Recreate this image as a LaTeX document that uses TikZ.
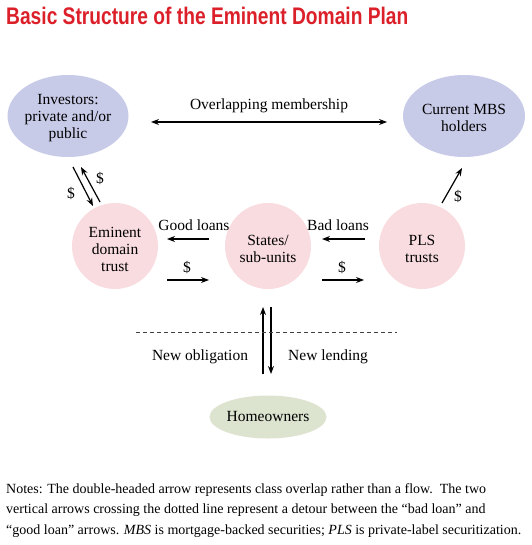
\documentclass[tikz,border=0pt]{standalone}
\usepackage{fontspec}
\setmainfont{Liberation Serif}
\newfontfamily\titlefont[FakeStretch=0.80]{Liberation Sans}
\usetikzlibrary{arrows.meta,shapes.geometric}
\definecolor{titlered}{RGB}{220,32,42}
\definecolor{lav}{RGB}{200,203,232}
\definecolor{pinkc}{RGB}{249,220,224}
\definecolor{greenc}{RGB}{220,227,207}
\tikzset{
  lbl/.style={font=\fontsize{15.5}{17}\selectfont, inner sep=0pt, align=center},
  ell/.style={ellipse, fill=lav, draw=none, inner sep=0pt},
  circ/.style={circle, fill=pinkc, draw=none, minimum size=86pt, inner sep=0pt},
  arr/.style={line width=1.2pt, -{Stealth[length=8pt,width=6pt]}},
}
\begin{document}
\begin{tikzpicture}[x=1pt,y=-1pt]
\useasboundingbox (0,0) rectangle (531,545);
% title
\node[anchor=base west, inner sep=0pt, text=titlered, font=\titlefont\bfseries\fontsize{24}{26}\selectfont] (title) at (6,25) {Basic Structure of the Eminent Domain Plan};
% nodes
\node[ell, minimum width=121pt, minimum height=82pt] (inv) at (68,116) {};
\node[lbl] (invt) at (68,118) {Investors:\\private and/or\\public};
\node[ell, minimum width=122pt, minimum height=82pt] (mbs) at (464,116) {};
\node[lbl] (mbst) at (464,118) {Current MBS\\holders};
\node[circ] (edt) at (115,246) {};
\node[lbl] (edtt) at (115,249) {Eminent\\domain\\trust};
\node[circ] (st) at (268,246) {};
\node[lbl] (stt) at (268,249) {States/\\sub-units};
\node[circ] (pls) at (422,246) {};
\node[lbl] (plst) at (422,249) {PLS\\trusts};
\node[ellipse, fill=greenc, minimum width=117pt, minimum height=43pt, inner sep=0pt] (home) at (268,417) {};
\node[lbl] (homet) at (268,416) {Homeowners};
% overlapping
\coordinate (ovL) at (151,122);
\coordinate (ovR) at (387,122);
\draw[line width=1.2pt, {Stealth[length=8pt,width=6pt]}-{Stealth[length=8pt,width=6pt]}] (ovL) -- (ovR);
\node[lbl] (ovt) at (269,106) {Overlapping membership};
% investors <-> trust
\coordinate (d1a) at (73,167);
\coordinate (d1b) at (93,206);
\coordinate (d2a) at (100,202);
\coordinate (d2b) at (81,167);
\draw[arr] (d1a) -- (d1b);
\draw[arr] (d2a) -- (d2b);
\node[lbl] (dl1) at (71,193) {\$};
\node[lbl] (dl2) at (100,178) {\$};
% pls -> mbs
\coordinate (m1) at (442,203);
\coordinate (m2) at (462,168);
\draw[arr] (m1) -- (m2);
\node[lbl] (dl3) at (458,196) {\$};
% horizontal
\coordinate (g1) at (209,239); \coordinate (g2) at (167,239);
\draw[arr] (g1) -- (g2);
\node[lbl] (gt) at (194,225) {Good loans};
\coordinate (h1) at (167,280); \coordinate (h2) at (209,280);
\draw[arr] (h1) -- (h2);
\node[lbl] (dl4) at (187,267) {\$};
\coordinate (b1) at (365,239); \coordinate (b2) at (322,239);
\draw[arr] (b1) -- (b2);
\node[lbl] (bt) at (338,225) {Bad loans};
\coordinate (k1) at (322,280); \coordinate (k2) at (364,280);
\draw[arr] (k1) -- (k2);
\node[lbl] (dl5) at (342,267) {\$};
% vertical
\coordinate (u1) at (263,374); \coordinate (u2) at (263,307);
\coordinate (w1) at (271,307); \coordinate (w2) at (271,374);
\draw[arr] (u1) -- (u2);
\draw[arr] (w1) -- (w2);
\coordinate (dsL) at (136,332); \coordinate (dsR) at (397,332);
\draw[line width=1pt, dash pattern=on 4pt off 3pt, black!75] (dsL) -- (dsR);
\node[lbl] (not) at (200,357) {New obligation};
\node[lbl] (nlt) at (328,357) {New lending};
% notes
\node[anchor=base west, inner sep=0pt, align=left, font=\fontsize{14}{20.5}\selectfont] (notes) at (6,534)
{Notes: The double-headed arrow represents class overlap rather than a flow.\ \ The two\\
vertical arrows crossing the dotted line represent a detour between the ``bad loan'' and\\
``good loan'' arrows. \textit{MBS} is mortgage-backed securities; \textit{PLS} is private-label securitization.};
\end{tikzpicture}
\end{document}
